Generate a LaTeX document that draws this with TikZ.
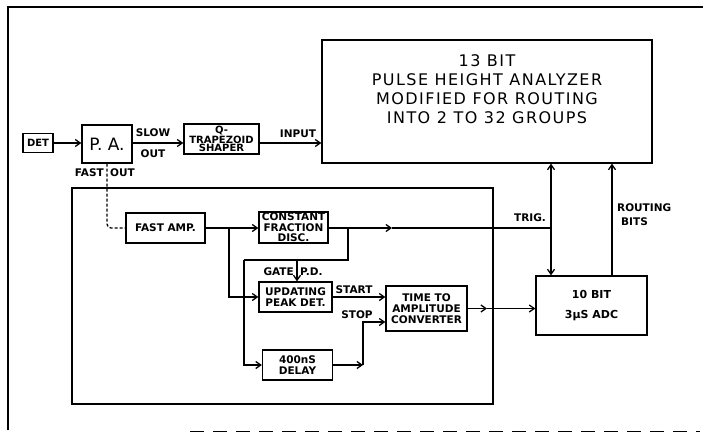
\documentclass[tikz,border=0pt]{standalone}
\usepackage{fontspec}
\setmainfont{DejaVu Sans}
\newfontfamily\phafont[LetterSpace=9]{DejaVu Sans}
\usetikzlibrary{arrows.meta,calc}
\begin{document}
\begin{tikzpicture}[x=1pt,y=-1pt,
  ln/.style={line width=1.3pt},
  blk/.style={draw,line width=1.3pt,inner sep=0pt,align=center,font=\bfseries\fontsize{10.5}{10.5}\selectfont},
  lab/.style={inner sep=0pt,font=\bfseries\fontsize{10.5}{11}\selectfont},
  arr/.style={-{Straight Barb[length=5pt,width=7pt]}},
  arrboth/.style={{Straight Barb[length=5pt,width=7pt]}-{Straight Barb[length=5pt,width=7pt]}}
]
\useasboundingbox (0,0) rectangle (703,433);
% frames
\draw[ln] (8,430) -- (8,7) -- (703,7);
\draw[line width=1pt,dash pattern=on 14pt off 9pt] (190,431) -- (700,431);
\draw[ln] (72,188) rectangle (493,404);
% blocks
\node[blk,minimum width=30pt,minimum height=19pt,font=\bfseries\fontsize{10}{10}\selectfont] (det) at (38,143) {DET};
\node[blk,minimum width=50pt,minimum height=38pt,font=\fontsize{17}{18}\selectfont] (pa) at (107,144) {P. A.};
\node[blk,minimum width=75pt,minimum height=30pt,font=\bfseries\fontsize{10}{8.5}\selectfont] (shaper) at (221.5,139) {Q-\\TRAPEZOID\\SHAPER};
\node[draw,line width=1.3pt,minimum width=330pt,minimum height=123pt] (pha) at (487,101.5) {};
\node[inner sep=0pt,align=center,font=\phafont\fontsize{16}{19}\selectfont] (phat) at (487,89) {13 BIT\\PULSE HEIGHT ANALYZER\\MODIFIED FOR ROUTING\\INTO 2 TO 32 GROUPS};
\node[blk,minimum width=79pt,minimum height=30pt] (fastamp) at (165.5,228) {FAST AMP.};
\node[blk,minimum width=69pt,minimum height=31pt] (cfd) at (293.5,227.5) {CONSTANT\\FRACTION\\DISC.};
\node[blk,minimum width=73pt,minimum height=30pt] (upd) at (295.5,297) {UPDATING\\PEAK DET.};
\node[blk,minimum width=70pt,minimum height=30pt] (delay) at (297.5,365) {400nS\\DELAY};
\node[blk,minimum width=81pt,minimum height=45pt,font=\bfseries\fontsize{10.5}{11}\selectfont] (tac) at (426.5,308.5) {TIME TO\\AMPLITUDE\\CONVERTER};
\node[blk,minimum width=111pt,minimum height=59pt,font=\bfseries\fontsize{11}{11}\selectfont] (adc) at (591.5,305.5) {10 BIT\\[9pt]3μS ADC};
% coordinates
\coordinate (main) at (0,143);
\coordinate (b1) at (229,228);
\coordinate (m1) at (392,228);
\coordinate (trigj) at (551,228);
\coordinate (b2) at (348,228);
\coordinate (c2) at (348,260);
\coordinate (c3) at (244,260);
\coordinate (g) at (297,260);
\coordinate (s1) at (363,365);
\coordinate (stopy) at (0,322);
\coordinate (m2) at (487,308.5);
\coordinate (rb) at (612,200);
% connectors
\draw[ln,arr] (det.east) -- (pa.west |- det.east);
\draw[ln,arr] (pa.east |- main) -- (shaper.west |- main);
\draw[ln,arr] (shaper.east |- main) -- (pha.west |- main);
\draw[ln,dash pattern=on 3pt off 2pt,rounded corners=4pt] (pa.south) |- (fastamp.west);
\draw[ln,arr] (fastamp.east) -- (cfd.west |- fastamp.east);
\draw[ln,arr] (b1) |- (upd.west);
\draw[ln,arr] (cfd.east |- b1) -- (m1);
\draw[ln] (m1) -- (trigj);
\draw[ln] (b2) -- (c2) -- (c3);
\draw[ln,arr] (c3) |- (delay.west);
\draw[ln,arr] (g) -- (g |- upd.north);
\draw[ln,arr] (upd.east) -- (tac.west |- upd.east);
\draw[ln,arr] (delay.east) -- (s1);
\draw[ln,arr] (s1) |- (tac.west |- stopy);
\draw[ln,arr] (tac.east) -- (m2);
\draw[ln,arr] (m2) -- (adc.west |- m2);
\draw[ln,arrboth] (adc.north -| trigj) -- (pha.south -| trigj);
\draw[ln,arr] (adc.north -| rb) -- (pha.south -| rb);
% labels
\node[lab] (slow) at (153,133) {SLOW};
\node[lab] (out1) at (153,154) {OUT};
\node[lab] (input) at (298,134) {INPUT};
\node[lab,anchor=east] (fast) at (104,173) {FAST};
\node[lab,anchor=west] (out2) at (110,173) {OUT};
\node[lab,anchor=east] (gate) at (294,272) {GATE};
\node[lab,anchor=west] (pd) at (300,272) {P.D.};
\node[lab] (start) at (354,290) {START};
\node[lab] (stop) at (357,315) {STOP};
\node[lab] (trig) at (530,218) {TRIG.};
\node[lab,anchor=west] (routing) at (617,208) {ROUTING};
\node[lab,anchor=west] (bits) at (621,222) {BITS};
\end{tikzpicture}
\end{document}
